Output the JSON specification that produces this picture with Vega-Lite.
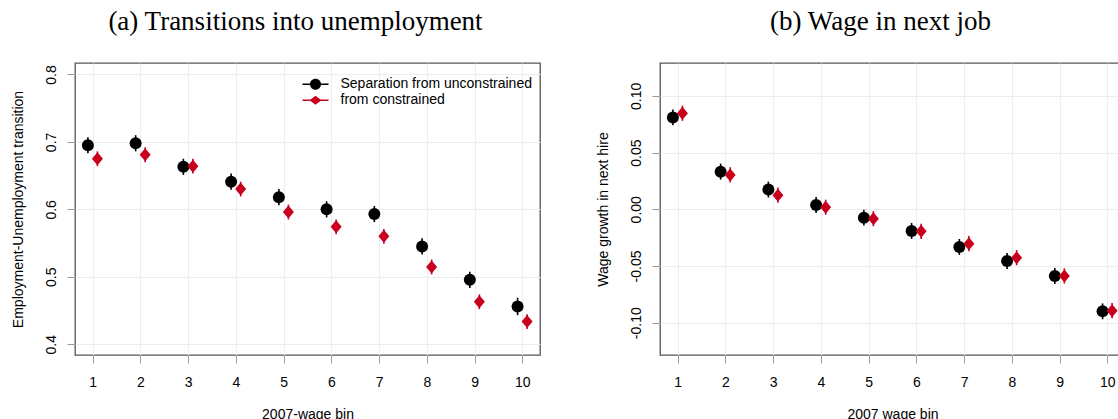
{
  "$schema": "https://vega.github.io/schema/vega-lite/v6.json",
  "padding": {"left": 10, "top": 7, "right": 0, "bottom": 0},
  "spacing": 54,
  "datasets": {
    "a": [
      {"bin": 1, "group": "Separation from unconstrained", "y": 0.695, "lo": 0.683, "hi": 0.707},
      {"bin": 1, "group": "from constrained", "y": 0.675, "lo": 0.664, "hi": 0.686},
      {"bin": 2, "group": "Separation from unconstrained", "y": 0.698, "lo": 0.686, "hi": 0.710},
      {"bin": 2, "group": "from constrained", "y": 0.681, "lo": 0.670, "hi": 0.692},
      {"bin": 3, "group": "Separation from unconstrained", "y": 0.663, "lo": 0.651, "hi": 0.675},
      {"bin": 3, "group": "from constrained", "y": 0.664, "lo": 0.653, "hi": 0.675},
      {"bin": 4, "group": "Separation from unconstrained", "y": 0.641, "lo": 0.629, "hi": 0.653},
      {"bin": 4, "group": "from constrained", "y": 0.630, "lo": 0.619, "hi": 0.641},
      {"bin": 5, "group": "Separation from unconstrained", "y": 0.618, "lo": 0.606, "hi": 0.630},
      {"bin": 5, "group": "from constrained", "y": 0.596, "lo": 0.585, "hi": 0.607},
      {"bin": 6, "group": "Separation from unconstrained", "y": 0.600, "lo": 0.588, "hi": 0.612},
      {"bin": 6, "group": "from constrained", "y": 0.574, "lo": 0.563, "hi": 0.585},
      {"bin": 7, "group": "Separation from unconstrained", "y": 0.593, "lo": 0.581, "hi": 0.605},
      {"bin": 7, "group": "from constrained", "y": 0.560, "lo": 0.549, "hi": 0.571},
      {"bin": 8, "group": "Separation from unconstrained", "y": 0.545, "lo": 0.533, "hi": 0.557},
      {"bin": 8, "group": "from constrained", "y": 0.5145, "lo": 0.5035, "hi": 0.5255},
      {"bin": 9, "group": "Separation from unconstrained", "y": 0.4955, "lo": 0.4835, "hi": 0.5075},
      {"bin": 9, "group": "from constrained", "y": 0.463, "lo": 0.452, "hi": 0.474},
      {"bin": 10, "group": "Separation from unconstrained", "y": 0.456, "lo": 0.443, "hi": 0.469},
      {"bin": 10, "group": "from constrained", "y": 0.4335, "lo": 0.4225, "hi": 0.4445}
    ],
    "b": [
      {"bin": 1, "group": "Separation from unconstrained", "y": 0.0810, "lo": 0.0740, "hi": 0.0880},
      {"bin": 1, "group": "from constrained", "y": 0.0847, "lo": 0.0780, "hi": 0.0914},
      {"bin": 2, "group": "Separation from unconstrained", "y": 0.0332, "lo": 0.0262, "hi": 0.0402},
      {"bin": 2, "group": "from constrained", "y": 0.0303, "lo": 0.0236, "hi": 0.0370},
      {"bin": 3, "group": "Separation from unconstrained", "y": 0.0174, "lo": 0.0104, "hi": 0.0244},
      {"bin": 3, "group": "from constrained", "y": 0.0124, "lo": 0.0057, "hi": 0.0191},
      {"bin": 4, "group": "Separation from unconstrained", "y": 0.0038, "lo": -0.0032, "hi": 0.0108},
      {"bin": 4, "group": "from constrained", "y": 0.0018, "lo": -0.0049, "hi": 0.0085},
      {"bin": 5, "group": "Separation from unconstrained", "y": -0.0074, "lo": -0.0144, "hi": -0.0004},
      {"bin": 5, "group": "from constrained", "y": -0.0083, "lo": -0.0150, "hi": -0.0016},
      {"bin": 6, "group": "Separation from unconstrained", "y": -0.0191, "lo": -0.0261, "hi": -0.0121},
      {"bin": 6, "group": "from constrained", "y": -0.0194, "lo": -0.0261, "hi": -0.0127},
      {"bin": 7, "group": "Separation from unconstrained", "y": -0.0332, "lo": -0.0402, "hi": -0.0262},
      {"bin": 7, "group": "from constrained", "y": -0.0303, "lo": -0.0370, "hi": -0.0236},
      {"bin": 8, "group": "Separation from unconstrained", "y": -0.0456, "lo": -0.0526, "hi": -0.0386},
      {"bin": 8, "group": "from constrained", "y": -0.0427, "lo": -0.0494, "hi": -0.0360},
      {"bin": 9, "group": "Separation from unconstrained", "y": -0.0588, "lo": -0.0658, "hi": -0.0518},
      {"bin": 9, "group": "from constrained", "y": -0.0588, "lo": -0.0655, "hi": -0.0521},
      {"bin": 10, "group": "Separation from unconstrained", "y": -0.0900, "lo": -0.0970, "hi": -0.0830},
      {"bin": 10, "group": "from constrained", "y": -0.0894, "lo": -0.0961, "hi": -0.0827}
    ]
  },
  "hconcat": [
    {
      "width": 465,
      "height": 292,
      "data": {"name": "a"},
      "title": {"text": "(a) Transitions into unemployment"},
      "encoding": {
        "x": {
          "field": "bin", "type": "quantitative",
          "scale": {"domain": [0.63, 10.37], "nice": false, "zero": false},
          "axis": {"values": [1, 2, 3, 4, 5, 6, 7, 8, 9, 10], "title": "2007-wage bin", "labelPadding": 12, "titleY": 63, "titleBaseline": "alphabetic", "labelAngle": 0, "labelFlush": false, "labelOverlap": false}
        },
        "y": {
          "field": "y", "type": "quantitative",
          "scale": {"domain": [0.384, 0.817], "nice": false, "zero": false},
          "axis": {"values": [0.4, 0.5, 0.6, 0.7, 0.8], "format": ".1f", "title": "Employment-Unemployment transition", "labelAngle": -90, "labelAlign": "center", "labelBaseline": "middle", "labelPadding": 16, "titleX": -57, "titleY": 146, "titleAngle": -90, "titleAlign": "center", "titleBaseline": "middle", "labelFlush": false, "labelOverlap": false}
        },
        "color": {
          "field": "group", "type": "nominal",
          "scale": {"domain": ["Separation from unconstrained", "from constrained"], "range": ["#000000", "#C8001E"]},
          "legend": {
            "orient": "none", "legendX": 232.5, "legendY": 13.3, "direction": "vertical", "title": null, "padding": 0,
            "symbolSize": 256, "labelOffset": 17, "rowPadding": 1, "labelLimit": 400,
            "labelFont": "Liberation Sans", "labelFontSize": 14, "labelColor": "#000000",
            "symbolStrokeWidth": 0, "symbolOpacity": 1,
            "encode": {"symbols": {"update": {
              "shape": {"signal": "datum.value === 'from constrained' ? 'M-1.625,-0.09H1.625V0.09H-1.625Z M-0.75,0L0,-0.56L0.75,0L0,0.56Z' : 'M-1.625,-0.09H1.625V0.09H-1.625Z M-0.69,0C-0.69,-0.381 -0.381,-0.69 0,-0.69C0.381,-0.69 0.69,-0.381 0.69,0C0.69,0.381 0.381,0.69 0,0.69C-0.381,0.69 -0.69,0.381 -0.69,0Z'"},
              "fill": {"signal": "datum.value === 'from constrained' ? '#C8001E' : '#000000'"},
              "stroke": {"value": "transparent"}
            }}}
          }
        }
      },
      "layer": [
        {
          "transform": [{"filter": "datum.group === 'Separation from unconstrained'"}],
          "mark": {"type": "point", "shape": "circle", "filled": true, "size": 144, "opacity": 1, "xOffset": -4.77}
        },
        {
          "transform": [{"filter": "datum.group === 'from constrained'"}],
          "mark": {"type": "point", "shape": "M0,-1L0.846,0L0,1L-0.846,0Z", "filled": true, "size": 169, "opacity": 1, "xOffset": 4.77}
        },
        {
          "transform": [{"filter": "datum.group === 'Separation from unconstrained'"}],
          "mark": {"type": "rule", "strokeWidth": 1.6, "xOffset": -4.77},
          "encoding": {"y": {"field": "lo", "type": "quantitative", "title": "Employment-Unemployment transition"}, "y2": {"field": "hi"}}
        },
        {
          "transform": [{"filter": "datum.group === 'from constrained'"}],
          "mark": {"type": "rule", "strokeWidth": 1.6, "xOffset": 4.77},
          "encoding": {"y": {"field": "lo", "type": "quantitative", "title": "Employment-Unemployment transition"}, "y2": {"field": "hi"}}
        }
      ]
    },
    {
      "width": 465,
      "height": 292,
      "data": {"name": "b"},
      "title": {"text": "(b) Wage in next job"},
      "encoding": {
        "x": {
          "field": "bin", "type": "quantitative",
          "scale": {"domain": [0.63, 10.37], "nice": false, "zero": false},
          "axis": {"values": [1, 2, 3, 4, 5, 6, 7, 8, 9, 10], "title": "2007 wage bin", "labelPadding": 12, "titleY": 63, "titleBaseline": "alphabetic", "labelAngle": 0, "labelFlush": false, "labelOverlap": false}
        },
        "y": {
          "field": "y", "type": "quantitative",
          "scale": {"domain": [-0.1285, 0.129], "nice": false, "zero": false},
          "axis": {"values": [-0.1, -0.05, 0, 0.05, 0.1], "labelExpr": "replace(format(datum.value, '.2f'), '\u2212', '-')", "title": "Wage growth in next hire", "labelAngle": -90, "labelAlign": "center", "labelBaseline": "middle", "labelPadding": 16, "titleX": -57, "titleY": 146, "titleAngle": -90, "titleAlign": "center", "titleBaseline": "middle", "labelFlush": false, "labelOverlap": false}
        },
        "color": {
          "field": "group", "type": "nominal",
          "scale": {"domain": ["Separation from unconstrained", "from constrained"], "range": ["#000000", "#C8001E"]},
          "legend": {
            "orient": "none", "legendX": 232.2, "legendY": 13.3, "direction": "vertical", "title": null, "padding": 0,
            "symbolSize": 256, "labelOffset": 17, "rowPadding": 1, "labelLimit": 400,
            "labelFont": "Liberation Sans", "labelFontSize": 14, "labelColor": "#000000",
            "symbolStrokeWidth": 0, "symbolOpacity": 1,
            "encode": {"symbols": {"update": {
              "shape": {"signal": "datum.value === 'from constrained' ? 'M-1.625,-0.09H1.625V0.09H-1.625Z M-0.75,0L0,-0.56L0.75,0L0,0.56Z' : 'M-1.625,-0.09H1.625V0.09H-1.625Z M-0.69,0C-0.69,-0.381 -0.381,-0.69 0,-0.69C0.381,-0.69 0.69,-0.381 0.69,0C0.69,0.381 0.381,0.69 0,0.69C-0.381,0.69 -0.69,0.381 -0.69,0Z'"},
              "fill": {"signal": "datum.value === 'from constrained' ? '#C8001E' : '#000000'"},
              "stroke": {"value": "transparent"}
            }}}
          }
        }
      },
      "layer": [
        {
          "transform": [{"filter": "datum.group === 'Separation from unconstrained'"}],
          "mark": {"type": "point", "shape": "circle", "filled": true, "size": 144, "opacity": 1, "xOffset": -4.77}
        },
        {
          "transform": [{"filter": "datum.group === 'from constrained'"}],
          "mark": {"type": "point", "shape": "M0,-1L0.846,0L0,1L-0.846,0Z", "filled": true, "size": 169, "opacity": 1, "xOffset": 4.77}
        },
        {
          "transform": [{"filter": "datum.group === 'Separation from unconstrained'"}],
          "mark": {"type": "rule", "strokeWidth": 1.6, "xOffset": -4.77},
          "encoding": {"y": {"field": "lo", "type": "quantitative", "title": "Wage growth in next hire"}, "y2": {"field": "hi"}}
        },
        {
          "transform": [{"filter": "datum.group === 'from constrained'"}],
          "mark": {"type": "rule", "strokeWidth": 1.6, "xOffset": 4.77},
          "encoding": {"y": {"field": "lo", "type": "quantitative", "title": "Wage growth in next hire"}, "y2": {"field": "hi"}}
        }
      ]
    }
  ],
  "config": {
    "view": {"stroke": "#555555", "strokeWidth": 1.3},
    "font": "Liberation Sans",
    "axis": {
      "labelFont": "Liberation Sans", "labelFontSize": 14, "labelColor": "#000000",
      "titleFont": "Liberation Sans", "titleFontSize": 14, "titleColor": "#000000", "titleFontWeight": "normal",
      "domain": false, "tickColor": "#999999", "tickSize": 8, "tickWidth": 1,
      "grid": true, "gridColor": "#ededed", "gridWidth": 1
    },
    "title": {"font": "Liberation Serif", "fontSize": 27, "fontWeight": "normal", "color": "#000000", "baseline": "alphabetic", "offset": 27, "anchor": "middle", "dx": -12}
  }
}
